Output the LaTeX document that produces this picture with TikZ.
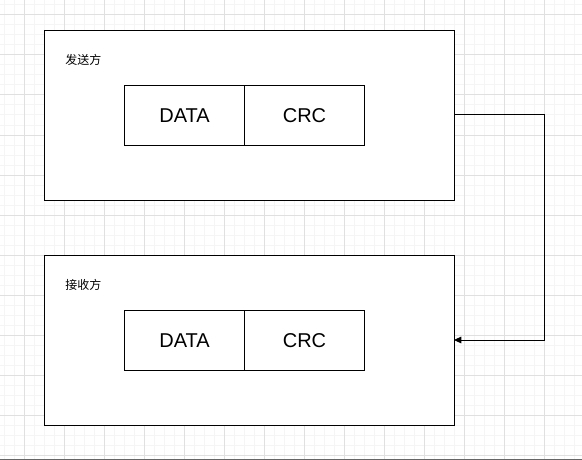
\documentclass[tikz,border=0pt]{standalone}
\usepackage{fontspec}
\setmainfont{Liberation Sans}
\newfontfamily\cjk{Noto Sans CJK SC}
\usetikzlibrary{arrows.meta}
\definecolor{gridminor}{HTML}{F5F5F5}
\definecolor{gridmajor}{HTML}{E0E0E0}
\tikzset{
  outerbox/.style={draw=black, fill=white, line width=0.75pt, minimum width=307.5pt, minimum height=127.5pt, anchor=north west, inner sep=0pt},
  cell/.style={draw=black, fill=white, line width=0.75pt, minimum width=90pt, minimum height=45pt, anchor=north west, inner sep=0pt, font=\fontsize{15pt}{18pt}\selectfont},
  tag/.style={anchor=west, inner sep=0pt, font=\cjk\fontsize{9pt}{11pt}\selectfont},
  conn/.style={draw=black, line width=0.75pt, -{Triangle[length=5.5pt,width=5pt]}}
}
\begin{document}
\begin{tikzpicture}[x=0.75pt,y=-0.75pt]
\useasboundingbox (0,0) rectangle (582,460);
\fill[white] (0,0) rectangle (582,460);
% grid
\foreach \x in {4.3,14.3,...,582} \draw[gridminor, line width=0.75pt] (\x,0) -- (\x,460);
\foreach \y in {5,15,...,460} \draw[gridminor, line width=0.75pt] (0,\y) -- (582,\y);
\foreach \x in {24.3,64.3,...,582} \draw[gridmajor, line width=0.75pt] (\x,0) -- (\x,460);
\foreach \y in {15,55,...,460} \draw[gridmajor, line width=0.75pt] (0,\y) -- (582,\y);
\fill[black!60] (0,459) rectangle (582,460);
% sender
\node[outerbox] (send) at (44,30) {};
\node[tag] (sendlbl) at (65,60) {发送方};
\node[cell] (sdata) at (124,85) {DATA};
\node[cell] (scrc) at (244,85) {CRC};
% receiver
\node[outerbox] (recv) at (44,255) {};
\node[tag] (recvlbl) at (65,285) {接收方};
\node[cell] (rdata) at (124,310) {DATA};
\node[cell] (rcrc) at (244,310) {CRC};
% connector
\coordinate (out) at (454,115);
\coordinate (in) at (454,340);
\draw[conn] (out) -- (544,115) -- (544,340) -- (in);
\end{tikzpicture}
\end{document}
